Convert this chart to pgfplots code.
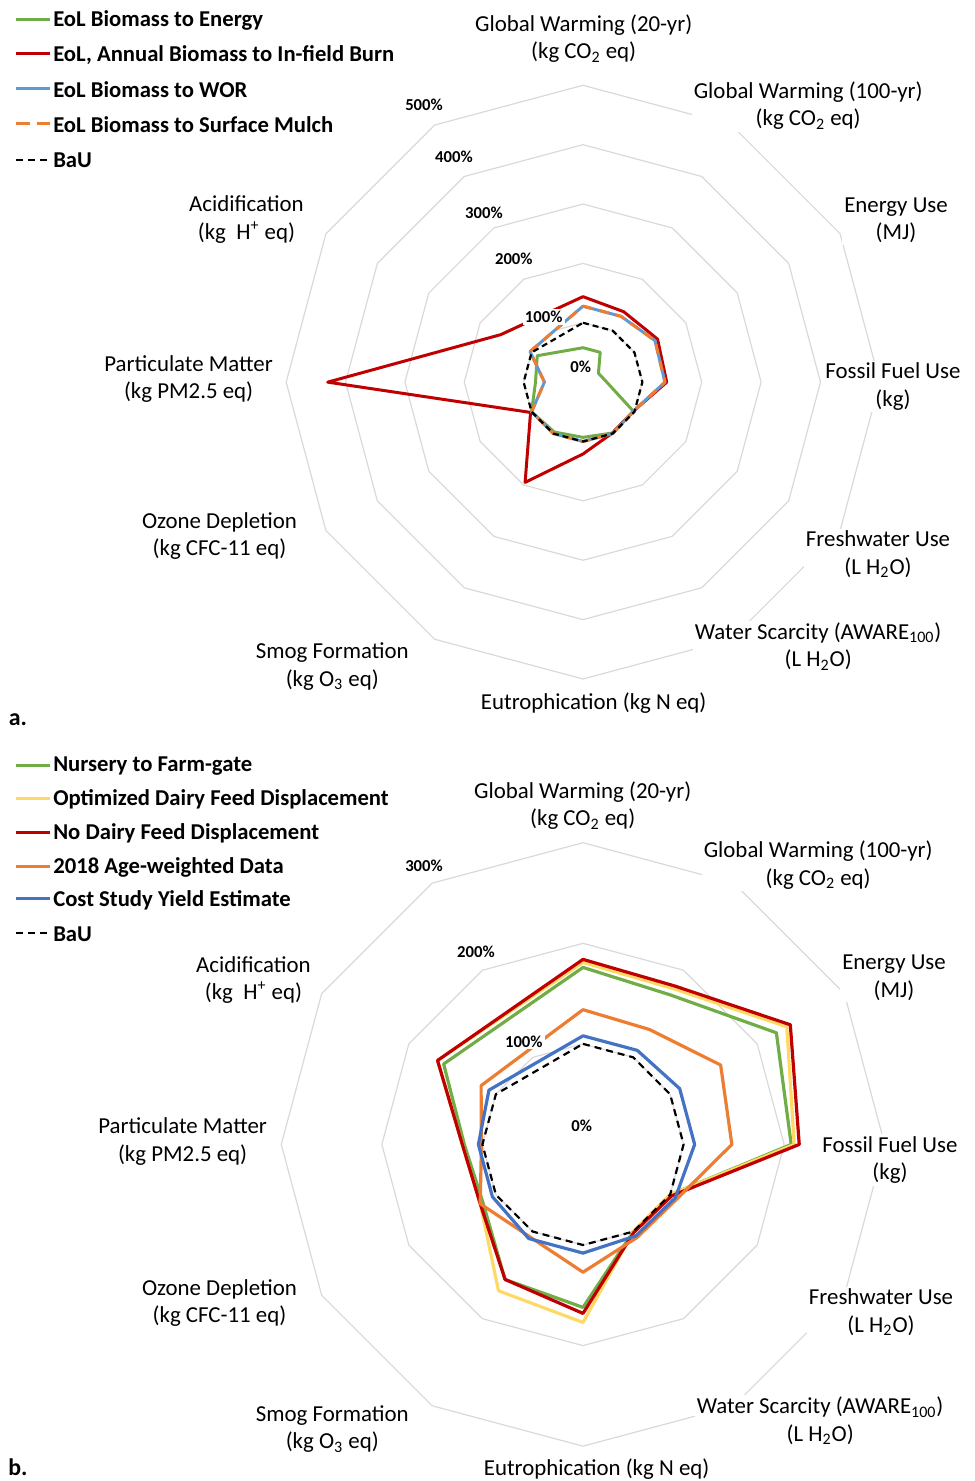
\documentclass[border=0pt]{standalone}
\usepackage{fontspec}
\setmainfont{Carlito}
\usepackage{pgfplots}
\pgfplotsset{compat=1.18}
\usepgfplotslibrary{polar}
\usepackage{pgfplotstable}

\definecolor{cgreen}{HTML}{70AD47}
\definecolor{cred}{HTML}{C00000}
\definecolor{cblue}{HTML}{5B9BD5}
\definecolor{corange}{HTML}{ED7D31}
\definecolor{cyellow}{HTML}{FFD966}
\definecolor{cdblue}{HTML}{4472C4}
\definecolor{cgrid}{HTML}{D9D9D9}

% polar angle (deg, counter-clockwise from east); spoke at 120 deg is unlabeled
\pgfplotstableread{
ang  energy burn wor  mulch bau
90   0.58  1.44 1.28 1.28  1.00
60   0.58  1.37 1.28 1.28  1.00
30   0.30  1.45 1.40 1.40  1.00
0    0.40  1.41 1.38 1.38  1.00
-30  0.98  0.98 0.98 0.98  1.00
-60  0.99  0.99 1.00 1.00  1.00
-90  0.93  1.21 1.00 1.00  1.00
-120 0.97  1.95 1.00 1.00  1.00
-150 1.00  1.02 1.00 1.00  1.00
-180 0.80  4.30 0.65 0.65  1.00
-210 0.89  1.60 1.03 1.03  1.00
90   0.58  1.44 1.28 1.28  1.00
}\dataA

\pgfplotstableread{
ang  nursery optim nodairy age  cost bau
90   1.76    1.81  1.84    1.34 1.08 1.00
60   1.72    1.79  1.82    1.32 1.08 1.00
30   2.22    2.34  2.38    1.58 1.11 1.00
0    2.07    2.10  2.15    1.48 1.11 1.00
-30  1.00    1.00  1.02    1.08 1.06 1.00
-60  1.00    1.00  1.01    1.07 1.05 1.00
-90  1.62    1.77  1.68    1.27 1.08 1.00
-120 1.55    1.68  1.55    1.06 1.08 1.00
-150 1.15    1.18  1.18    1.18 1.04 1.00
-180 1.18    1.20  1.20    1.01 1.04 1.00
-210 1.60    1.67  1.67    1.17 1.08 1.00
90   1.76    1.81  1.84    1.34 1.08 1.00
}\dataB

\newcommand\lab{\fontsize{11.5}{13.8}\selectfont}
\newcommand\tck{\bfseries\fontsize{8.4}{10}\selectfont}
\newcommand\leg{\bfseries\fontsize{11.4}{13}\selectfont}

\begin{document}
\begin{tikzpicture}
\path (0,0) rectangle (488.5bp,-740.5bp);

% ---------------- chart a ----------------
\begin{axis}[
  at={(292.15bp,-191.5bp)}, anchor=origin,
  x=29.75bp, y=29.75bp,
  xmin=-5.05, xmax=5.05, ymin=-5.05, ymax=5.05,
  hide axis, clip=false, data cs=polar,
  every axis plot/.append style={line join=round, line cap=round},
]
\pgfplotsinvokeforeach{1,...,5}{
  \addplot[cgrid, line width=0.6bp] coordinates {(90,#1) (60,#1) (30,#1) (0,#1) (-30,#1) (-60,#1) (-90,#1) (-120,#1) (-150,#1) (-180,#1) (-210,#1) (-240,#1) (90,#1)};
}
\addplot[cgreen, line width=1.5bp] table[x=ang, y=energy] {\dataA};
\addplot[cred, line width=1.5bp] table[x=ang, y=burn] {\dataA};
\addplot[cblue, line width=1.5bp] table[x=ang, y=wor] {\dataA};
\addplot[corange, line width=1.5bp, line cap=butt, dash pattern=on 5bp off 3.5bp] table[x=ang, y=mulch] {\dataA};
\addplot[black, line width=1.1bp, line cap=butt, dash pattern=on 3bp off 2bp] table[x=ang, y=bau] {\dataA};
\end{axis}

% ---------------- chart b ----------------
\begin{axis}[
  at={(292.15bp,-573.5bp)}, anchor=origin,
  x=50.4bp, y=50.4bp,
  xmin=-3.05, xmax=3.05, ymin=-3.05, ymax=3.05,
  hide axis, clip=false, data cs=polar,
  every axis plot/.append style={line join=round, line cap=round},
]
\pgfplotsinvokeforeach{1,...,3}{
  \addplot[cgrid, line width=0.6bp] coordinates {(90,#1) (60,#1) (30,#1) (0,#1) (-30,#1) (-60,#1) (-90,#1) (-120,#1) (-150,#1) (-180,#1) (-210,#1) (-240,#1) (90,#1)};
}
\addplot[cgreen, line width=1.6bp] table[x=ang, y=nursery] {\dataB};
\addplot[cyellow, line width=1.6bp] table[x=ang, y=optim] {\dataB};
\addplot[cred, line width=1.6bp] table[x=ang, y=nodairy] {\dataB};
\addplot[corange, line width=1.6bp] table[x=ang, y=age] {\dataB};
\addplot[cdblue, line width=1.6bp] table[x=ang, y=cost] {\dataB};
\addplot[black, line width=1.1bp, line cap=butt, dash pattern=on 3.5bp off 2.5bp] table[x=ang, y=bau] {\dataB};
\end{axis}

\begin{scope}[x=0.5bp, y=-0.5bp, every node/.style={inner sep=1bp}]
% value labels a
\node[font=\tck, fill=white] at (582,368) {0\%};
\node[font=\tck, fill=white] at (545,318) {100\%};
\node[font=\tck, fill=white] at (515,259) {200\%};
\node[font=\tck, fill=white] at (485,213) {300\%};
\node[font=\tck, fill=white] at (455,157) {400\%};
\node[font=\tck, fill=white] at (425,105) {500\%};
% value labels b
\node[font=\tck, fill=white] at (583,1128) {0\%};
\node[font=\tck, fill=white] at (525,1044) {100\%};
\node[font=\tck, fill=white] at (477,954) {200\%};
\node[font=\tck, fill=white] at (425,868) {300\%};

% category labels
\begin{scope}[every node/.style={font=\lab, align=center, fill=white, inner sep=1bp}]
\node at (585,38.5) {Global Warming (20-yr)\\(kg CO\textsubscript{2} eq)};
\node at (810,106) {Global Warming (100-yr)\\(kg CO\textsubscript{2} eq)};
\node at (898,221) {Energy Use\\(MJ)};
\node at (895,387.5) {Fossil Fuel Use\\(kg)};
\node at (880,555.5) {Freshwater Use\\(L H\textsubscript{2}O)};
\node at (820,648) {Water Scarcity (AWARE\textsubscript{100})\\(L H\textsubscript{2}O)};
\node at (595,705) {Eutrophication (kg N eq)};
\node at (333,668) {Smog Formation\\(kg O\textsubscript{3} eq)};
\node at (220,537) {Ozone Depletion\\(kg CFC-11 eq)};
\node at (189,380) {Particulate Matter\\(kg PM2.5 eq)};
\node at (247,220) {Acidification\\(kg\ \ H\textsuperscript{+} eq)};
\node at (584,807.5) {Global Warming (20-yr)\\(kg CO\textsubscript{2} eq)};
\node at (820,867) {Global Warming (100-yr)\\(kg CO\textsubscript{2} eq)};
\node at (896,980) {Energy Use\\(MJ)};
\node at (892,1162.5) {Fossil Fuel Use\\(kg)};
\node at (883,1315.5) {Freshwater Use\\(L H\textsubscript{2}O)};
\node at (822,1424) {Water Scarcity (AWARE\textsubscript{100})\\(L H\textsubscript{2}O)};
\node at (598,1472) {Eutrophication (kg N eq)};
\node at (333,1432) {Smog Formation\\(kg O\textsubscript{3} eq)};
\node at (220,1306) {Ozone Depletion\\(kg CFC-11 eq)};
\node at (183,1144) {Particulate Matter\\(kg PM2.5 eq)};
\node at (254,982) {Acidification\\(kg\ \ H\textsuperscript{+} eq)};
\end{scope}

% legend a
\draw[cgreen, line width=1.5bp] (16,20) -- (50,20);
\node[font=\leg, anchor=west] at (51,21) {EoL Biomass to Energy};
\draw[cred, line width=1.5bp] (16,54) -- (50,54);
\node[font=\leg, anchor=west] at (51,55) {EoL, Annual Biomass to In-field Burn};
\draw[cblue, line width=1.5bp] (16,89) -- (50,89);
\node[font=\leg, anchor=west] at (51,90) {EoL Biomass to WOR};
\draw[corange, line width=1.5bp, dash pattern=on 7bp off 3.5bp] (16,124) -- (50,124);
\node[font=\leg, anchor=west] at (51,125) {EoL Biomass to Surface Mulch};
\draw[black, line width=1bp, dash pattern=on 3.5bp off 2.5bp] (16,160) -- (50,160);
\node[font=\leg, anchor=west] at (51,161) {BaU};

% legend b
\draw[cgreen, line width=1.5bp] (16,767) -- (50,767);
\node[font=\leg, anchor=west] at (51,768) {Nursery to Farm-gate};
\draw[cyellow, line width=1.5bp] (16,800) -- (50,800);
\node[font=\leg, anchor=west] at (51,801) {Optimized Dairy Feed Displacement};
\draw[cred, line width=1.5bp] (16,834) -- (50,834);
\node[font=\leg, anchor=west] at (51,835) {No Dairy Feed Displacement};
\draw[corange, line width=1.5bp] (16,868) -- (50,868);
\node[font=\leg, anchor=west] at (51,869) {2018 Age-weighted Data};
\draw[cdblue, line width=1.5bp] (16,901) -- (50,901);
\node[font=\leg, anchor=west] at (51,902) {Cost Study Yield Estimate};
\draw[black, line width=1bp, dash pattern=on 3.5bp off 2.5bp] (16,935) -- (50,935);
\node[font=\leg, anchor=west] at (51,936) {BaU};

\node[font=\bfseries\fontsize{12}{14}\selectfont] at (18,721) {a.};
\node[font=\bfseries\fontsize{12}{14}\selectfont] at (18,1471) {b.};
\end{scope}
\end{tikzpicture}
\end{document}
